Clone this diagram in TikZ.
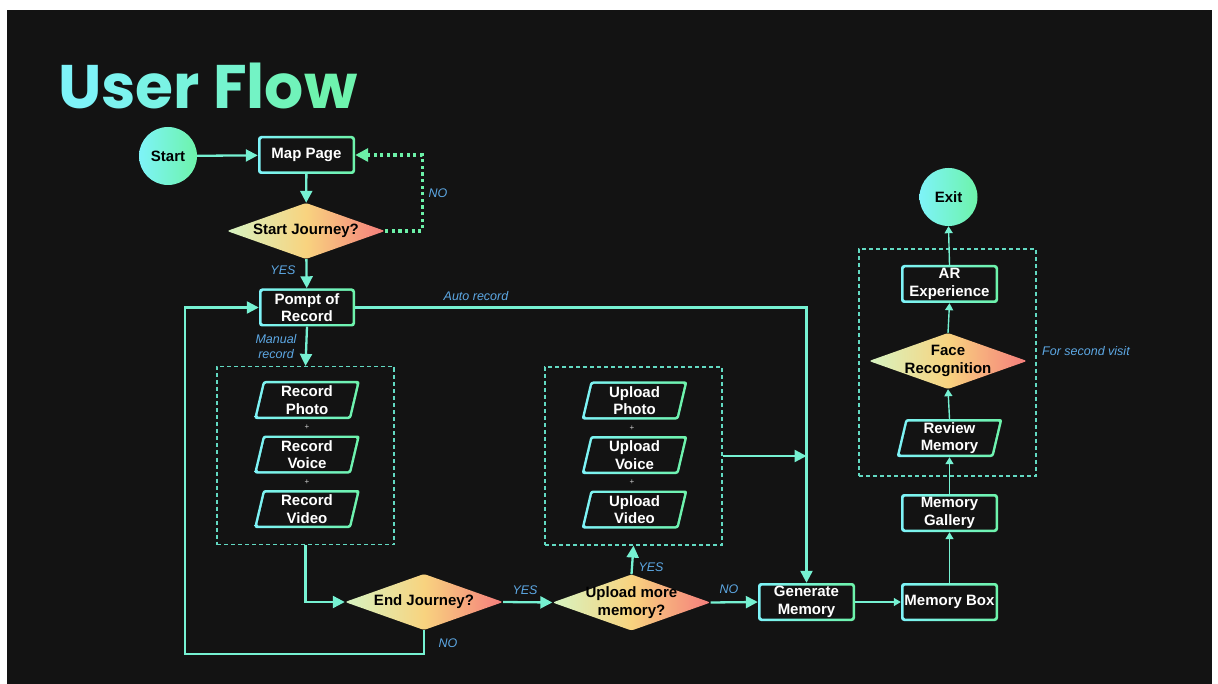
\documentclass[tikz,border=0pt]{standalone}
\usepackage{fontspec}
\setmainfont{Liberation Sans}
\newfontfamily\titlefont{Poppins}
\usetikzlibrary{arrows.meta,calc}
\definecolor{bg}{HTML}{131313}
\definecolor{cA}{HTML}{7EF3F8}
\definecolor{cB}{HTML}{6DF3AA}
\definecolor{linec}{HTML}{76F1D2}
\definecolor{labelc}{HTML}{5DA8E4}
\definecolor{dA}{HTML}{D6F4C2}
\definecolor{dB}{HTML}{F8D37F}
\definecolor{dC}{HTML}{F57D7C}
\definecolor{dashc}{HTML}{62D9C2}
\definecolor{dotc}{HTML}{6CF1A8}
\pgfdeclarehorizontalshading{diashade}{100bp}{color(0bp)=(dA); color(25bp)=(dA); color(50bp)=(dB); color(75bp)=(dC); color(100bp)=(dC)}
\newcommand\tl[2]{{\color{cB!#1!cA}#2}}
\tikzset{
  conn/.style={draw=linec, line width=2.3pt, -{Triangle[length=12pt,width=12pt]}},
  thinconn/.style={draw=linec, line width=1.4pt, -{Triangle[length=7pt,width=8pt]}},
  dotconn/.style={draw=dotc, line width=3.2pt, dash pattern=on 3.2pt off 3.4pt, -{Triangle[length=13pt,width=13pt]}},
  dbox/.style={draw=dashc, line width=1.2pt, dash pattern=on 4pt off 3pt, inner sep=0pt},
  lbl/.style={text=labelc, font=\itshape\fontsize{12.5}{14.5}\selectfont, inner sep=0pt, align=center},
  btext/.style={text=white, font=\bfseries\fontsize{15}{17.5}\selectfont, align=center, inner sep=0pt},
  dtext/.style={text=black, font=\bfseries\fontsize{15}{17.5}\selectfont, align=center, inner sep=0pt},
  plus/.style={text=white!80!black, font=\fontsize{8}{8}\selectfont, inner sep=0pt},
  ttl/.style={font=\titlefont\bfseries\fontsize{61.5}{61.5}\selectfont, inner sep=0pt, anchor=base west}
}
\newcommand\gbox[5]{%
  \node[rectangle, rounded corners=3pt, minimum width=#4, minimum height=38, inner sep=0pt, left color=cA, right color=cB] (#1) at (#2,#3) {};
  \node[rectangle, rounded corners=1.5pt, minimum width=#4-5, minimum height=33, fill=bg, inner sep=0pt] at (#2,#3) {};
  \node[btext] at (#2,#3) {#5};
}
\newcommand\gpara[4]{%
  \shade[left color=cA, right color=cB, rounded corners=2.5pt] (#2-53,#3+19) -- (#2+44,#3+19) -- (#2+53,#3-19) -- (#2-44,#3-19) -- cycle;
  \fill[bg, rounded corners=1.2pt] (#2-49.85,#3+16.5) -- (#2+42.05,#3+16.5) -- (#2+49.85,#3-16.5) -- (#2-42.05,#3-16.5) -- cycle;
  \node[btext, minimum width=97, minimum height=38] (#1) at (#2,#3) {#4};
}
\newcommand\gdia[4]{%
  \shade[shading=diashade, rounded corners=2.5pt] (#2-79,#3) -- (#2,#3-28) -- (#2+79,#3) -- (#2,#3+28) -- cycle;
  \node[dtext, minimum width=158, minimum height=56] (#1) at (#2,#3) {#4};
}
\begin{document}
\begin{tikzpicture}[x=1pt, y=-1pt]
\useasboundingbox (0,0) rectangle (1218,684);
\fill[white] (0,0) rectangle (1218,684);
\fill[bg] (7,10) rectangle (1212,684);

% title
\node[ttl] (title) at (58,109) {\tl{0}{U}\tl{12}{s}\tl{24}{e}\tl{36}{r} \tl{52}{F}\tl{66}{l}\tl{80}{o}\tl{95}{w}};

% dashed groups
\node[dbox, minimum width=177, minimum height=178] (recbox) at (305.5,455.5) {};
\node[dbox, minimum width=177, minimum height=178] (upbox) at (633.5,456) {};
\node[dbox, minimum width=177, minimum height=227] (rbox) at (947.5,362.5) {};

% nodes
\node[circle, minimum size=58, left color=cA, right color=cB, dtext] (start) at (168,156) {Start};
\gbox{map}{306.5}{155}{97}{Map Page}
\gdia{sj}{306}{231}{Start Journey?}
\gbox{pompt}{307}{307.5}{96}{Pompt of\\Record}

\gpara{rphoto}{307}{400}{Record\\Photo}
\gpara{rvoice}{307}{454.5}{Record\\Voice}
\gpara{rvideo}{307}{509}{Record\\Video}
\node[plus] (rp1) at (307,427) {+};
\node[plus] (rp2) at (307,482) {+};

\gpara{uphoto}{634.5}{400.5}{Upload\\Photo}
\gpara{uvoice}{634.5}{455}{Upload\\Voice}
\gpara{uvideo}{634.5}{509.5}{Upload\\Video}
\node[plus] (up1) at (632,428) {+};
\node[plus] (up2) at (632,482) {+};

\gdia{endj}{424}{602}{End Journey?}
\gdia{upm}{631.5}{602.5}{Upload more\\memory?}
\gbox{gen}{806.5}{602}{97}{Generate\\Memory}
\gbox{mbox}{949.5}{602}{97}{Memory Box}
\gbox{mgal}{949.5}{513}{97}{Memory\\Gallery}
\gpara{review}{949.5}{438}{Review\\Memory}
\gdia{face}{948}{361}{Face\\Recognition}
\gbox{ar}{949.5}{284}{97}{AR\\Experience}
\node[circle, minimum size=58, left color=cA, right color=cB, dtext] (exit) at (948.5,197) {Exit};

% connectors
\draw[conn] (start) -- (map);
\draw[conn] (map) -- (sj);
\draw[dotconn] (sj.east) -- ++(37,0) |- (map.east);
\draw[conn] (sj) -- (pompt);
\draw[conn] (pompt.east) -| (gen.north);
\draw[conn] (pompt.south) -- (recbox.north);
\draw[conn] (recbox.south) |- (endj.west);
\coordinate (loopA) at (185,654);
\draw[conn] (endj.south) |- (loopA) |- (pompt.west);
\draw[conn] (endj.east) -- (upm.west);
\draw[conn] (upm.north) -- (upbox.south);
\draw[conn] (upm.east) -- (gen.west);
\draw[conn] (upbox.east) -- (upbox.east -| gen.north);
\draw[thinconn] (gen.east) -- (mbox.west);
\draw[thinconn] (mbox.north) -- (mgal.south);
\draw[thinconn] (mgal.north) -- (review.south);
\draw[thinconn] (review.north) -- (face.south);
\draw[thinconn] (face.north) -- (ar.south);
\draw[thinconn] (ar.north) -- (exit.south);

% labels
\node[lbl] (l1) at (438,193) {NO};
\node[lbl] (l2) at (283,270) {YES};
\node[lbl] (l3) at (476,296) {Auto record};
\node[lbl] (l4) at (276,346.5) {Manual\\record};
\node[lbl] (l5) at (525,590) {YES};
\node[lbl] (l6) at (448,643) {NO};
\node[lbl] (l7) at (651,567) {YES};
\node[lbl] (l8) at (729,589) {NO};
\node[lbl, anchor=west] (l9) at (1042,351) {For second visit};
\end{tikzpicture}
\end{document}
